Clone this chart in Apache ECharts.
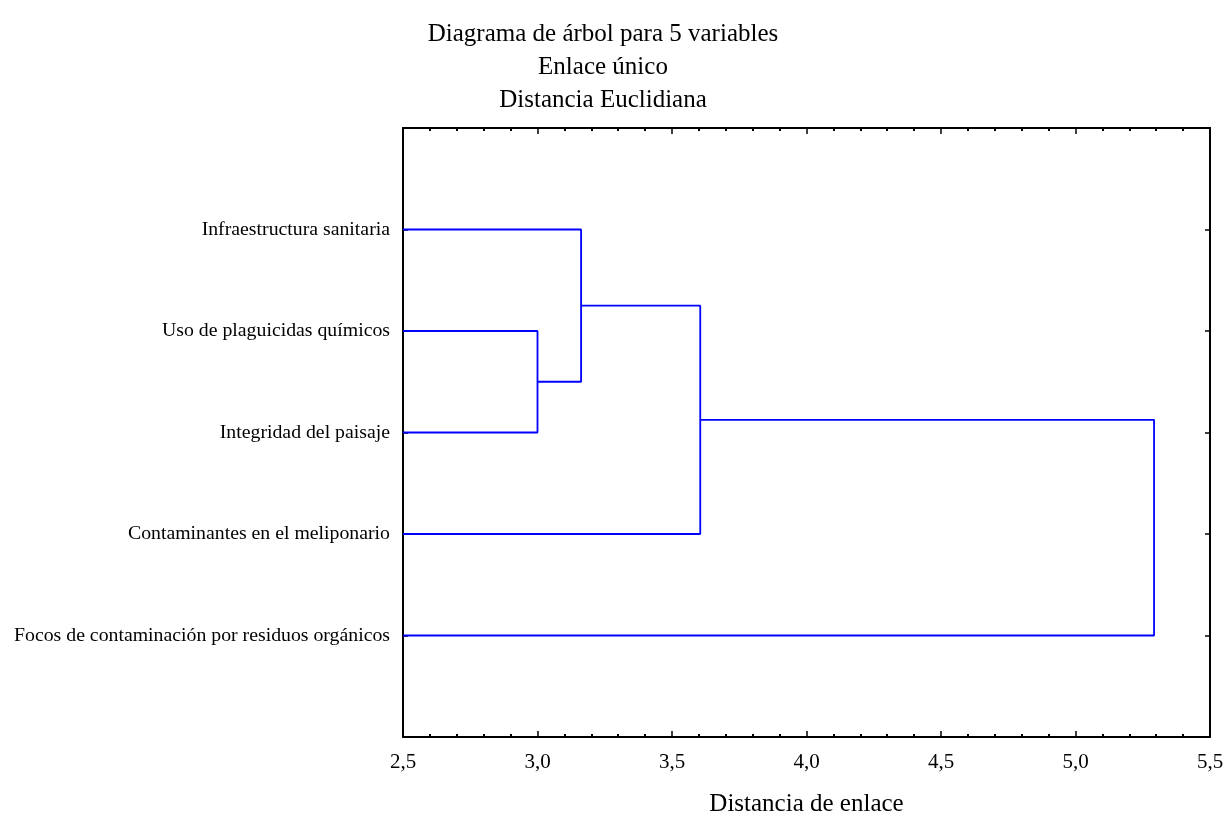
<!DOCTYPE html>
<html>
<head>
<meta charset="utf-8">
<script src="https://cdn.jsdelivr.net/npm/echarts@6/dist/echarts.min.js"></script>
<style>html,body{margin:0;padding:0;background:#fff}#c{width:1223px;height:814px}</style>
</head>
<body>
<div id="c"></div>
<script>
var titleLines = ['Diagrama de árbol para 5 variables', 'Enlace único', 'Distancia Euclidiana'];
var leafLabels = ['Infraestructura sanitaria', 'Uso de plaguicidas químicos', 'Integridad del paisaje', 'Contaminantes en el meliponario', 'Focos de contaminación por residuos orgánicos'];
// merges: [childA, childB, linkage distance]; leaves are 0..4, clusters 5.. in order of creation
var mergeA = [1, 0, 6, 7];
var mergeB = [2, 5, 3, 4];
var mergeDist = [3.0, 3.162, 3.605, 5.292];
var xTicks = [2.5, 3.0, 3.5, 4.0, 4.5, 5.0, 5.5];
var xMin = 2.5, xMax = 5.5;

var FONT = '"Liberation Serif", "Times New Roman", serif';

// node positions
var nodeX = [], nodeY = [];
for (var i = 0; i < leafLabels.length; i++) { nodeX.push(xMin); nodeY.push(i + 1); }
var series = [];
for (var m = 0; m < mergeDist.length; m++) {
  var a = mergeA[m], b = mergeB[m], h = mergeDist[m];
  series.push({
    type: 'line', symbol: 'none', silent: true, animation: false,
    lineStyle: { color: '#0000ff', width: 1.8 },
    data: [[nodeX[a], nodeY[a]], [h, nodeY[a]], [h, nodeY[b]], [nodeX[b], nodeY[b]]]
  });
  nodeX.push(h); nodeY.push((nodeY[a] + nodeY[b]) / 2);
}

var chart = echarts.init(document.getElementById('c'), null, { renderer: 'canvas' });
function fmtX(v) { return v.toFixed(1).replace('.', ','); }
var axisLineStyle = { onZero: false, lineStyle: { color: '#000', width: 2 } };
var tickStyle = { color: '#000', width: 1.5 };
var minorStyle = { color: '#000', width: 2 };
chart.setOption({
  animation: false,
  backgroundColor: '#fff',
  title: {
    text: titleLines.join('\n'),
    left: 598, top: 13, textAlign: 'center',
    textStyle: { fontFamily: FONT, fontSize: 25, fontWeight: 'normal', color: '#000', lineHeight: 33 }
  },
  grid: { left: 403, right: 13, top: 128, bottom: 77, show: false, outerBoundsMode: 'none', containLabel: false },
  xAxis: [{
    type: 'value', min: xMin, max: xMax, interval: 0.5, position: 'bottom',
    splitLine: { show: false },
    axisLine: axisLineStyle,
    axisTick: { inside: true, length: 6, lineStyle: tickStyle },
    minorTick: { show: true, splitNumber: 5, length: 3, lineStyle: minorStyle },
    axisLabel: { margin: 15, formatter: fmtX, fontFamily: FONT, fontSize: 21, color: '#000' },
    name: 'Distancia de enlace', nameLocation: 'middle', nameGap: 55,
    nameTextStyle: { fontFamily: FONT, fontSize: 25, color: '#000' }
  }, {
    type: 'value', min: xMin, max: xMax, interval: 0.5, position: 'top',
    splitLine: { show: false },
    axisLine: axisLineStyle,
    axisTick: { inside: true, length: 6, lineStyle: tickStyle },
    minorTick: { show: true, splitNumber: 5, length: 3, lineStyle: minorStyle },
    axisLabel: { show: false }
  }],
  yAxis: [{
    type: 'value', min: 0, max: 6, interval: 1, inverse: true, position: 'left',
    splitLine: { show: false },
    axisLine: axisLineStyle,
    axisTick: { inside: true, length: 5, lineStyle: tickStyle },
    axisLabel: {
      margin: 13, fontFamily: FONT, fontSize: 19.8, color: '#000',
      formatter: function (v) { return (v >= 1 && v <= leafLabels.length) ? leafLabels[v - 1] : ''; }
    }
  }, {
    type: 'value', min: 0, max: 6, interval: 1, inverse: true, position: 'right',
    splitLine: { show: false },
    axisLine: axisLineStyle,
    axisTick: { inside: true, length: 5, lineStyle: tickStyle },
    axisLabel: { show: false }
  }],
  series: series
});
</script>
</body>
</html>
